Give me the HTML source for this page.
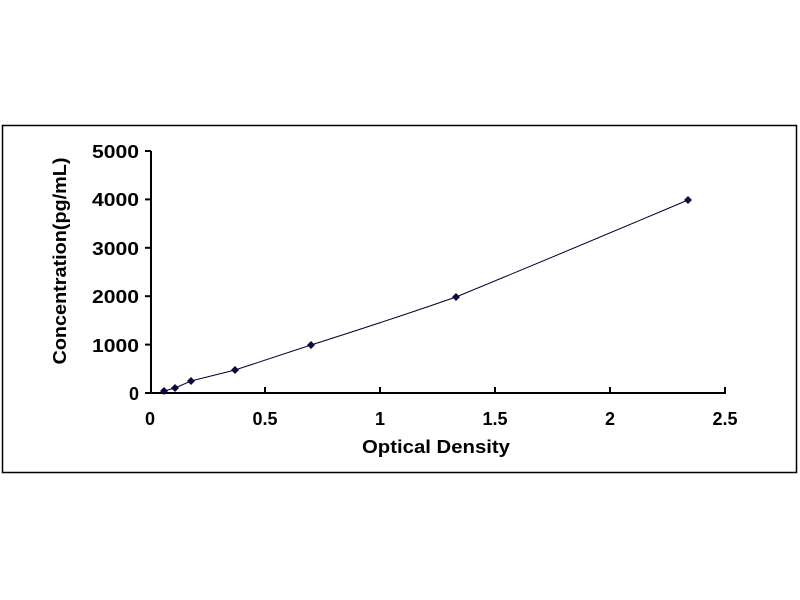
<!DOCTYPE html>
<html><head><style>body{margin:0;background:#fff;}svg{display:block}</style></head>
<body>
<svg width="800" height="600" xmlns="http://www.w3.org/2000/svg" font-family="Liberation Sans, Arial, sans-serif">
<rect x="0" y="0" width="800" height="600" fill="#fff"/>
<rect x="2.5" y="125.5" width="794" height="347" fill="none" stroke="#000" stroke-width="1.5"/>
<g stroke="#000" stroke-width="2">
<line x1="151" y1="151" x2="151" y2="393"/>
<line x1="150" y1="393" x2="726" y2="393"/>
<line x1="145" y1="151" x2="151" y2="151"/>
<line x1="145" y1="199.4" x2="151" y2="199.4"/>
<line x1="145" y1="247.8" x2="151" y2="247.8"/>
<line x1="145" y1="296.2" x2="151" y2="296.2"/>
<line x1="145" y1="344.6" x2="151" y2="344.6"/>
<line x1="145" y1="393" x2="151" y2="393"/>
<line x1="265" y1="387" x2="265" y2="393"/>
<line x1="380" y1="387" x2="380" y2="393"/>
<line x1="495" y1="387" x2="495" y2="393"/>
<line x1="610" y1="387" x2="610" y2="393"/>
<line x1="725" y1="387" x2="725" y2="393"/>
</g>
<g font-size="18" font-weight="bold" text-anchor="end">
<text x="139" y="158" textLength="47" lengthAdjust="spacingAndGlyphs">5000</text>
<text x="139" y="206" textLength="47" lengthAdjust="spacingAndGlyphs">4000</text>
<text x="139" y="255" textLength="47" lengthAdjust="spacingAndGlyphs">3000</text>
<text x="139" y="303" textLength="47" lengthAdjust="spacingAndGlyphs">2000</text>
<text x="139" y="352" textLength="47" lengthAdjust="spacingAndGlyphs">1000</text>
<text x="139" y="400">0</text>
</g>
<g font-size="18" font-weight="bold" text-anchor="middle">
<text x="150" y="425">0</text>
<text x="265" y="425">0.5</text>
<text x="380" y="425">1</text>
<text x="495" y="425">1.5</text>
<text x="610" y="425">2</text>
<text x="725" y="425">2.5</text>
<text x="436" y="453" textLength="148" lengthAdjust="spacingAndGlyphs">Optical Density</text>
<text transform="translate(66,261) rotate(-90)" textLength="207" lengthAdjust="spacingAndGlyphs">Concentration(pg/mL)</text>
</g>
<path d="M164,391 L175,388 L191,381 L235,370 L311,345 Q390,320 456,297 Q570,250 688,200" fill="none" stroke="#000033" stroke-width="1"/>
<g fill="#0a0a40">
<path d="M164,387 l4,4 l-4,4 l-4,-4z"/>
<path d="M175,384 l4,4 l-4,4 l-4,-4z"/>
<path d="M191,377 l4,4 l-4,4 l-4,-4z"/>
<path d="M235,366 l4,4 l-4,4 l-4,-4z"/>
<path d="M311,341 l4,4 l-4,4 l-4,-4z"/>
<path d="M456,293 l4,4 l-4,4 l-4,-4z"/>
<path d="M688,196 l4,4 l-4,4 l-4,-4z"/>
</g>
</svg>
</body></html>
